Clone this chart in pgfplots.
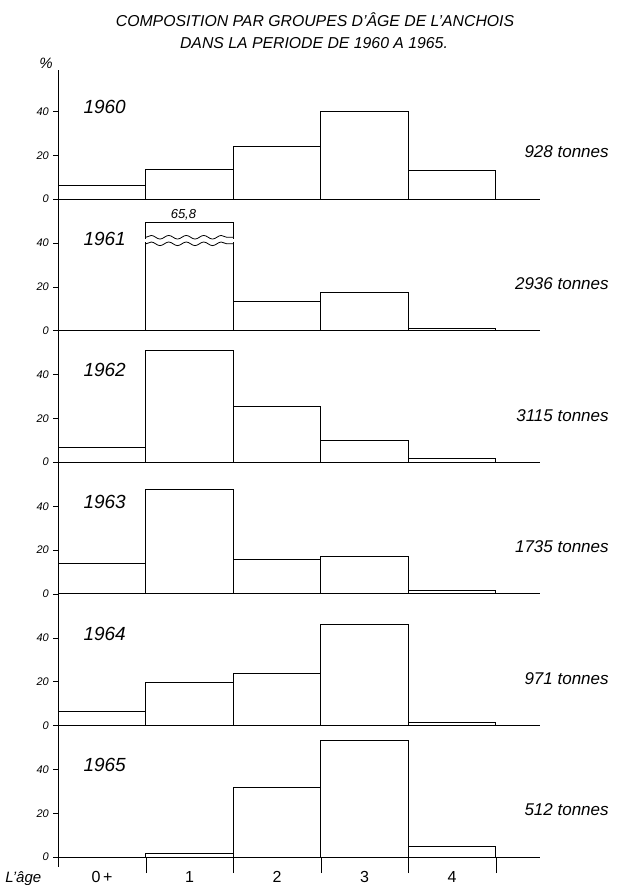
\documentclass[border=0pt]{standalone}
\usepackage{pgfplots}
\pgfplotsset{compat=1.18}
\usepackage{fontspec}
\setmainfont{Liberation Sans}
\usetikzlibrary{decorations.pathmorphing}

\pgfplotsset{
  panel/.style={
    scale only axis, width=481.25pt, height=131.6pt,
    xmin=0, xmax=5.5, ymin=0, ymax=60.2,
    axis x line=bottom, axis y line=left,
    axis line style={-, line width=0.8pt},
    xtick=\empty, ytick={0,20,40},
    tick align=outside, major tick length=5pt,
    every tick/.style={black, line width=0.6pt},
    yticklabel style={font=\itshape\fontsize{11}{13}\selectfont, xshift=-1pt},
    /pgf/number format/assume math mode=true,
    clip=false, anchor=south west},
  bars/.style={ybar interval, draw=black, fill=white, line width=0.8pt, mark=none},
}
\newcommand{\yearlab}[1]{\node[font=\itshape\fontsize{19}{22}\selectfont] at (axis cs:0.53,42) {#1};}
\newcommand{\tonlab}[1]{\node[anchor=east, font=\itshape\fontsize{17}{20}\selectfont] at (axis cs:6.33,21.5) {#1};}

\begin{document}
\begin{tikzpicture}
\path[use as bounding box] (0pt,0pt) rectangle (628pt,-885pt);

\node[font=\itshape\fontsize{15.8}{18}\selectfont] at (315pt,-20pt) {COMPOSITION PAR GROUPES D'ÂGE DE L'ANCHOIS};
\node[font=\itshape\fontsize{15.8}{18}\selectfont] at (314pt,-43pt) {DANS LA PERIODE DE 1960 A 1965.};
\node[font=\itshape\fontsize{15}{17}\selectfont] at (46pt,-63pt) {\%};

% 1960
\begin{axis}[panel, at={(58.3pt,-199pt)}, ymax=59, height=128.9pt]
\addplot[bars] coordinates {(0,6.1) (1,13.7) (2,24.0) (3,40.0) (4,13.0) (5,0)};
\yearlab{1960}
\tonlab{928 tonnes}
\end{axis}

% 1961
\begin{axis}[panel, at={(58.3pt,-330.6pt)}]
\addplot[bars] coordinates {(0,0) (1,49.3) (2,13.3) (3,17.3) (4,1.0) (5,0)};
\fill[white] (axis cs:0.98,40.4) rectangle (axis cs:2.02,42.0);
\draw[line width=0.8pt, decorate, decoration={snake, amplitude=1.8pt, segment length=17.5pt}] (axis cs:1,42.7) -- (axis cs:2,42.7);
\draw[line width=0.8pt, decorate, decoration={snake, amplitude=1.8pt, segment length=17.5pt}] (axis cs:1,39.7) -- (axis cs:2,39.7);
\node[font=\itshape\fontsize{13}{15}\selectfont] at (axis cs:1.43,53.2) {65,8};
\yearlab{1961}
\tonlab{2936 tonnes}
\end{axis}

% 1962
\begin{axis}[panel, at={(58.3pt,-462.2pt)}]
\addplot[bars] coordinates {(0,6.7) (1,51.1) (2,25.3) (3,9.8) (4,1.7) (5,0)};
\yearlab{1962}
\tonlab{3115 tonnes}
\end{axis}

% 1963
\begin{axis}[panel, at={(58.3pt,-593.8pt)}]
\addplot[bars] coordinates {(0,13.7) (1,47.9) (2,15.6) (3,17.2) (4,1.6) (5,0)};
\yearlab{1963}
\tonlab{1735 tonnes}
\end{axis}

% 1964
\begin{axis}[panel, at={(58.3pt,-725.4pt)}]
\addplot[bars] coordinates {(0,6.4) (1,19.7) (2,23.6) (3,46.1) (4,1.4) (5,0)};
\yearlab{1964}
\tonlab{971 tonnes}
\end{axis}

% 1965
\begin{axis}[panel, at={(58.3pt,-857pt)},
  extra x ticks={1,2,3,4,5}, extra x tick labels={},
  extra x tick style={major tick length=16pt, tick align=outside}]
\addplot[bars] coordinates {(0,0) (1,1.5) (2,31.7) (3,53.5) (4,4.9) (5,0)};
\yearlab{1965}
\tonlab{512 tonnes}
\draw[line width=0.8pt] (axis cs:0,0) -- ++(0pt,-10pt);
\node[font=\fontsize{16}{18}\selectfont] at (axis cs:0.5,0) [yshift=-20pt] {0\,+};
\node[font=\fontsize{16}{18}\selectfont] at (axis cs:1.5,0) [yshift=-20pt] {1};
\node[font=\fontsize{16}{18}\selectfont] at (axis cs:2.5,0) [yshift=-20pt] {2};
\node[font=\fontsize{16}{18}\selectfont] at (axis cs:3.5,0) [yshift=-20pt] {3};
\node[font=\fontsize{16}{18}\selectfont] at (axis cs:4.5,0) [yshift=-20pt] {4};
\node[font=\itshape\fontsize{15}{18}\selectfont] at (axis cs:0,0) [xshift=-35pt, yshift=-22pt] {L'âge};
\end{axis}
\end{tikzpicture}
\end{document}
